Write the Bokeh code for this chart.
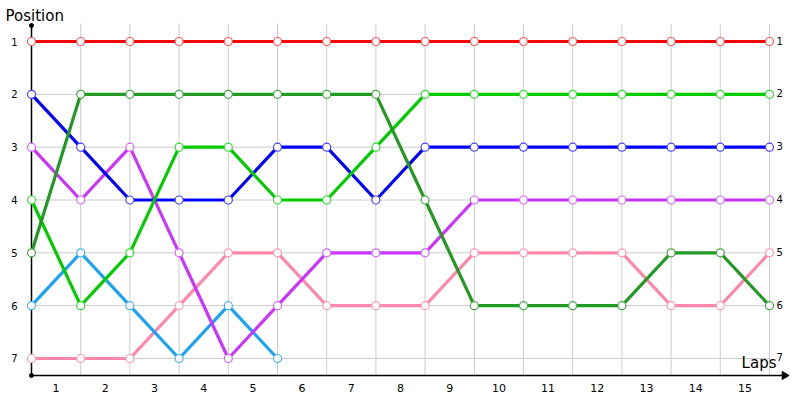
from bokeh.plotting import figure
from bokeh.models import Range1d
from bokeh.core.properties import value
from bokeh.embed import file_html
from bokeh.resources import INLINE

laps = list(range(1, 16))
points = list(range(16))
positions = [1, 2, 3, 4, 5, 6, 7]

red = [1] * 16
dark_green = [5, 2, 2, 2, 2, 2, 2, 2, 4, 6, 6, 6, 6, 5, 5, 6]
green = [4, 6, 5, 3, 3, 4, 4, 3, 2, 2, 2, 2, 2, 2, 2, 2]
blue = [2, 3, 4, 4, 4, 3, 3, 4, 3, 3, 3, 3, 3, 3, 3, 3]
purple = [3, 4, 3, 5, 7, 6, 5, 5, 5, 4, 4, 4, 4, 4, 4, 4]
light_blue = [6, 5, 6, 7, 6, 7]
pink = [7, 7, 7, 6, 5, 5, 6, 6, 6, 5, 5, 5, 5, 6, 6, 5]

series = [
    (pink, "#ff88aa", "#ff99bb"),
    (light_blue, "#1aa3f5", "#44b4f5"),
    (purple, "#cc33ff", "#d466ff"),
    (blue, "#0000ff", "#4444ff"),
    (green, "#00cc00", "#33dd33"),
    (dark_green, "#229922", "#44aa44"),
    (red, "#ff0000", "#ff5555"),
]

W, H = 800, 400
px_x = 1 / 49.2
px_y = 1 / 52.83
p = figure(width=W, height=H, output_backend="svg", toolbar_location=None,
           x_range=Range1d(-31 * px_x, 15 + 31 * px_x),
           y_range=Range1d(1 + 359 * px_y, 1 - 41 * px_y),
           min_border=0, min_border_left=0, min_border_right=0,
           min_border_top=0, min_border_bottom=0)
p.axis.visible = False
p.grid.visible = False
p.outline_line_color = None
p.background_fill_color = "white"
p.border_fill_color = "white"

x_axis_y = 7 + 17 * px_y
top_y = 1 - 16 * px_y
grid_top = 1 - 18 * px_y

# grid
p.segment(x0=points, x1=points, y0=[grid_top] * 16, y1=[x_axis_y] * 16,
          line_color="#cccccc", line_width=1)
p.segment(x0=[0] * 7, x1=[15] * 7, y0=positions, y1=positions,
          line_color="#cccccc", line_width=1)

# axes
p.segment(x0=[0], x1=[0], y0=[top_y], y1=[x_axis_y], line_color="black", line_width=1.5)
p.segment(x0=[0], x1=[15 + 18 * px_x], y0=[x_axis_y], y1=[x_axis_y], line_color="black", line_width=1.5)
p.scatter(x=[0, 0], y=[top_y, x_axis_y], size=4, color="black")
p.scatter(x=[15 + 15 * px_x], y=[x_axis_y], marker="triangle", angle=-1.5708,
          size=8, color="black")

for vals, lc, mc in series:
    xs = points[:len(vals)]
    p.line(xs, vals, line_color=lc, line_width=3.2)
    p.scatter(xs, vals, size=8, fill_color="white", line_color=mc, line_width=1.2)

font = value("DejaVu Sans")
# y labels left
p.text(x=[-17 * px_x] * 7, y=positions, text=[str(v) for v in positions],
       text_font=font, text_font_size="10px", text_color="black",
       text_align="center", text_baseline="middle")
# right labels
last_pos = [red[-1], green[-1], blue[-1], purple[-1], pink[-1], dark_green[-1], 7]
p.text(x=[15 + 7 * px_x] * 7, y=[v - 1 * px_y for v in last_pos], text=[str(v) for v in last_pos],
       text_font=font, text_font_size="10px", text_color="black",
       text_align="left", text_baseline="middle")
# lap labels
p.text(x=[l - 0.5 for l in laps], y=[x_axis_y + 13 * px_y] * 15, text=[str(l) for l in laps],
       text_font=font, text_font_size="11px", text_color="black",
       text_align="center", text_baseline="middle")
# axis titles
p.text(x=[-26 * px_x], y=[1 - 26 * px_y], text=["Position"], text_font=font,
       text_font_size="15px", text_color="black", text_align="left", text_baseline="middle")
p.text(x=[15 + 7 * px_x], y=[7 + 5 * px_y], text=["Laps"], text_font=font,
       text_font_size="15px", text_color="black", text_align="right", text_baseline="middle")

open("out.html", "w").write(file_html(p, INLINE))
